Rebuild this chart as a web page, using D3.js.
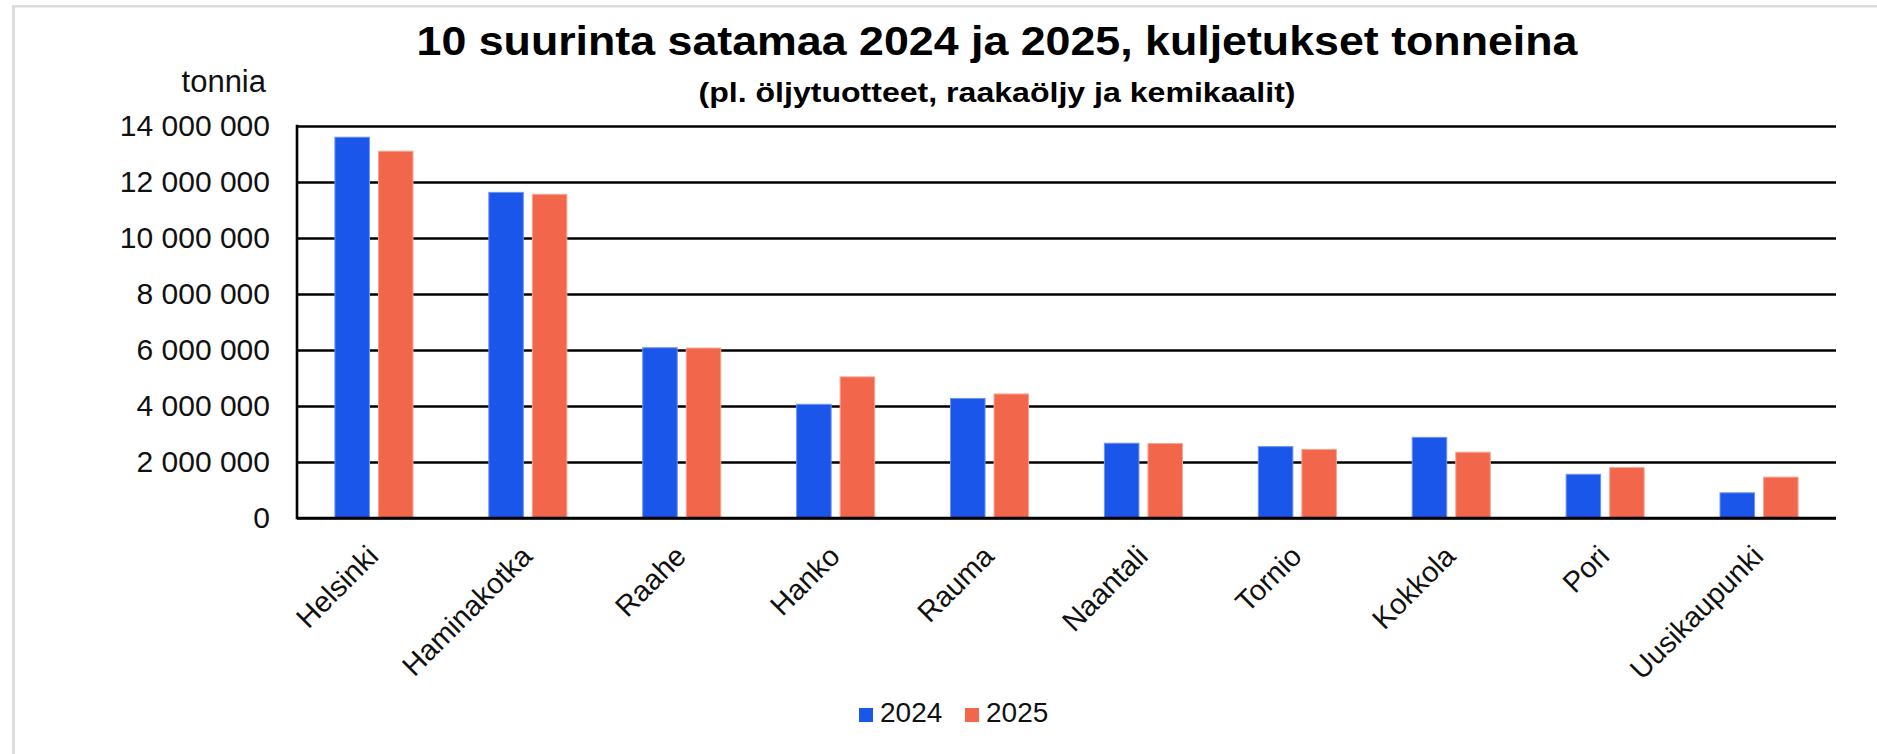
<!DOCTYPE html>
<html>
<head>
<meta charset="utf-8">
<script src="https://cdn.jsdelivr.net/npm/d3@7"></script>
<style>
  body { margin: 0; background: #fff; }
  svg { display: block; font-family: "Liberation Sans", Arial, sans-serif; }
</style>
</head>
<body>
<script>

var satamat = ["Helsinki", "Haminakotka", "Raahe", "Hanko", "Rauma", "Naantali", "Tornio", "Kokkola", "Pori", "Uusikaupunki"];
var vuodet = ["2024", "2025"];
var tonnit2024 = [13600000, 11630000, 6080000, 4060000, 4270000, 2670000, 2550000, 2880000, 1560000, 900000];
var tonnit2025 = [13100000, 11560000, 6070000, 5040000, 4430000, 2660000, 2450000, 2350000, 1800000, 1460000];
var yTicks = [0, 2000000, 4000000, 6000000, 8000000, 10000000, 12000000, 14000000];
var varit = ["#1b56ea", "#f2664c"];
var reunat = ["#6f92f0", "#f8a493"];

var W = 1877, H = 754;

var svg = d3.select("body").append("svg").attr("width", W).attr("height", H);

// light frame top + left
svg.append("rect").attr("x", 12).attr("y", 5).attr("width", W - 12).attr("height", 2.5).attr("fill", "#dcdcdc");
svg.append("rect").attr("x", 12).attr("y", 5).attr("width", 3).attr("height", H - 5).attr("fill", "#dcdcdc");

var plotL = 297, plotR = 1836, plotT = 126, plotB = 518;

var y = d3.scaleLinear().domain([0, 14000000]).range([plotB, plotT]);
var x0 = d3.scaleBand().domain(satamat).range([plotL, plotR]).padding(0);
var x1 = d3.scaleBand().domain(vuodet).range([0, x0.bandwidth()]).paddingInner(0.207).paddingOuter(0.871);

var fmt = function(d){ return d3.format(",")(d).replace(/,/g, " "); };

// gridlines + tick labels
var yAxis = d3.axisLeft(y).tickValues(yTicks).tickSize(-(plotR - plotL)).tickFormat(fmt).tickPadding(27);
var ga = svg.append("g").attr("transform", "translate(" + plotL + ",0)").call(yAxis);
ga.select(".domain").remove();
ga.selectAll(".tick line").attr("stroke", "#000").attr("stroke-width", 2.6);
ga.selectAll(".tick text").attr("fill", "#111").style("font-size", "30px").style("font-family", "Liberation Sans, Arial, sans-serif");

var rows = satamat.map(function(s, i){ return {name: s, values: [tonnit2024[i], tonnit2025[i]]}; });

var groups = svg.append("g").selectAll("g")
  .data(rows)
  .enter()
  .append("g")
    .attr("transform", function(d){ return "translate(" + x0(d.name) + ",0)"; });

groups.selectAll("rect")
  .data(function(d){ return d.values.map(function(v, j){ return {year: vuodet[j], v: v, j: j}; }); })
  .enter()
  .append("rect")
    .attr("x", function(d){ return x1(d.year); })
    .attr("y", function(d){ return y(d.v); })
    .attr("width", x1.bandwidth())
    .attr("height", function(d){ return y(0) - y(d.v); })
    .attr("fill", function(d){ return varit[d.j]; })
    .attr("stroke", function(d){ return reunat[d.j]; })
    .attr("stroke-width", 1);

// axis lines on top
svg.append("line").attr("x1", plotL).attr("x2", plotL).attr("y1", plotT - 1.3).attr("y2", plotB + 1.3).attr("stroke", "#000").attr("stroke-width", 2.6);
svg.append("line").attr("x1", plotL).attr("x2", plotR).attr("y1", plotB).attr("y2", plotB).attr("stroke", "#000").attr("stroke-width", 2.6);

// category labels
svg.append("g").selectAll("text")
  .data(satamat)
  .enter()
  .append("text")
    .attr("transform", function(d){ return "translate(" + (x0(d) + x0.bandwidth() / 2 + 6) + ",558) rotate(-45)"; })
    .attr("text-anchor", "end")
    .attr("fill", "#111")
    .style("font-size", "29px")
    .text(function(d){ return d; });

// titles
svg.append("text").attr("x", 997).attr("y", 55).attr("text-anchor", "middle")
  .attr("textLength", 1161).attr("lengthAdjust", "spacingAndGlyphs")
  .style("font-size", "40px").style("font-weight", "bold").attr("fill", "#000")
  .text("10 suurinta satamaa 2024 ja 2025, kuljetukset tonneina");
svg.append("text").attr("x", 997).attr("y", 102).attr("text-anchor", "middle")
  .attr("textLength", 597).attr("lengthAdjust", "spacingAndGlyphs")
  .style("font-size", "27px").style("font-weight", "bold").attr("fill", "#000")
  .text("(pl. öljytuotteet, raakaöljy ja kemikaalit)");
svg.append("text").attr("x", 266).attr("y", 92).attr("text-anchor", "end")
  .style("font-size", "31px").attr("fill", "#111").text("tonnia");

// legend
var leg = svg.append("g").selectAll("g")
  .data(vuodet)
  .enter()
  .append("g")
    .attr("transform", function(d, i){ return "translate(" + (859 + i * 106) + ",708)"; });
leg.append("rect").attr("width", 14).attr("height", 14).attr("fill", function(d, i){ return varit[i]; });
leg.append("text").attr("x", 21).attr("y", 14).style("font-size", "28px").attr("fill", "#111").text(function(d){ return d; });

</script>
</body>
</html>
